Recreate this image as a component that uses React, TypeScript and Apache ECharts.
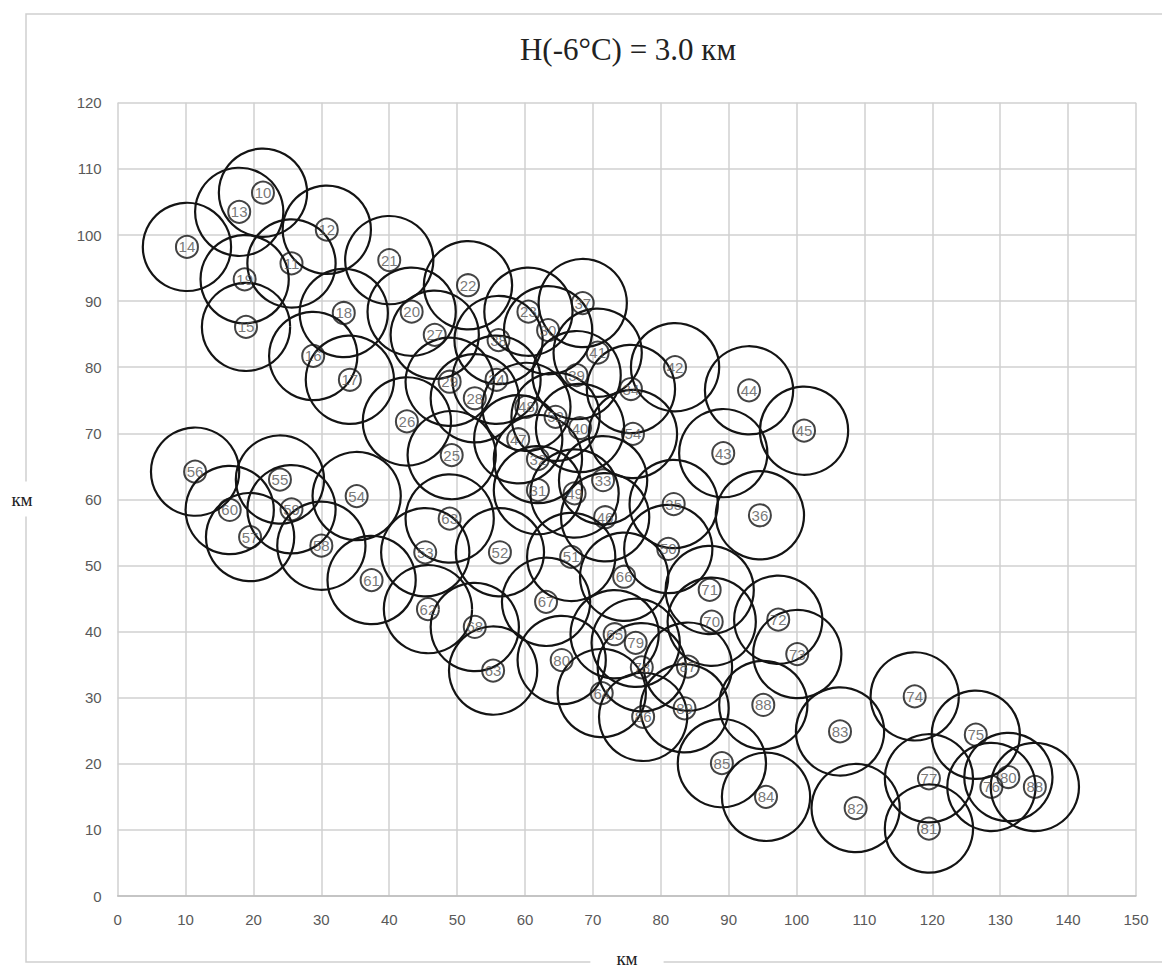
import React, { useEffect, useRef } from "react";
import * as echarts from "echarts";

const titleText = "H(-6°C) = 3.0 км";
const axisName = "км";
const xTicksMax = 150;
const yTicksMax = 120;
const cellRadiusKm = 6.5;

const labels = [
  "10", "13", "14", "12", "11", "19", "15", "21", "18", "20",
  "16", "17", "27", "22", "23", "37", "30", "38", "41", "42",
  "39", "34", "29", "24", "28", "48", "52", "40", "26", "44",
  "45", "54", "43", "33", "35", "36", "46", "25", "47", "32",
  "31", "49", "63", "53", "52", "51", "50", "66", "56", "55",
  "54", "60", "59", "57", "58", "61", "62", "68", "67", "63",
  "80", "65", "79", "78", "64", "71", "70", "72", "73", "87",
  "86", "89", "88", "74", "83", "75", "77", "80", "76", "88",
  "82", "81", "84", "85",
];
const xs = [
  21.4, 17.9, 10.2, 30.8, 25.6, 18.7, 18.9, 40.0, 33.3, 43.3,
  28.8, 34.2, 46.7, 51.6, 60.5, 68.5, 63.4, 56.1, 70.7, 82.1,
  67.6, 75.6, 48.9, 55.8, 52.6, 60.2, 64.5, 68.1, 42.6, 93.0,
  101.1, 75.9, 89.2, 71.5, 81.9, 94.6, 71.8, 49.2, 59.0, 61.9,
  61.9, 67.3, 48.9, 45.3, 56.3, 66.8, 81.1, 74.6, 11.4, 23.9,
  35.2, 16.5, 25.6, 19.5, 30.0, 37.4, 45.7, 52.6, 63.1, 55.3,
  65.4, 73.2, 76.3, 77.2, 71.3, 87.2, 87.5, 97.3, 100.1, 84.0,
  77.4, 83.5, 95.1, 117.4, 106.4, 126.4, 119.5, 131.2, 128.7, 135.1,
  108.7, 119.5, 95.5, 89.0,
];
const ys = [
  106.4, 103.5, 98.2, 100.8, 95.7, 93.3, 86.1, 96.2, 88.2, 88.4,
  81.7, 78.1, 84.9, 92.4, 88.4, 89.7, 85.6, 84.1, 82.2, 80.0,
  78.8, 76.7, 77.8, 78.1, 75.3, 74.0, 72.5, 70.8, 71.8, 76.5,
  70.4, 69.9, 67.0, 62.9, 59.3, 57.6, 57.3, 66.7, 69.1, 66.1,
  61.4, 60.9, 57.1, 52.0, 52.0, 51.3, 52.5, 48.3, 64.2, 63.0,
  60.5, 58.4, 58.5, 54.3, 53.0, 47.8, 43.4, 40.7, 44.5, 34.1,
  35.7, 39.6, 38.3, 34.6, 30.7, 46.3, 41.5, 41.8, 36.6, 34.7,
  27.1, 28.4, 28.9, 30.2, 24.9, 24.4, 17.8, 18.0, 16.5, 16.5,
  13.3, 10.2, 15.0, 20.1,
];

export default function App() {
  const ref = useRef<HTMLDivElement>(null);
  useEffect(() => {
    if (!ref.current) return;
    const chart = echarts.init(ref.current, undefined, { renderer: "svg" });
    const points = xs.map((x, i) => ({ value: [x, ys[i]], name: labels[i] }));
    const tickFont = {
      color: "#595959",
      fontSize: 15,
      fontFamily: "'Liberation Sans Narrow', 'Liberation Sans', sans-serif",
    };
    chart.setOption({
      animation: false,
      backgroundColor: "#ffffff",
      grid: { left: 117.7, right: 26, top: 102.8, bottom: 74 },
      xAxis: {
        type: "value",
        min: 0,
        max: xTicksMax,
        interval: 10,
        axisLine: { show: true, lineStyle: { color: "#bdbdbd", width: 1.5 } },
        axisTick: { show: false },
        axisLabel: { ...tickFont, margin: 16 },
        splitLine: { show: true, lineStyle: { color: "#d0d0d0", width: 1.5 } },
      },
      yAxis: {
        type: "value",
        min: 0,
        max: yTicksMax,
        interval: 10,
        axisLine: { show: false },
        axisTick: { show: false },
        axisLabel: { ...tickFont, margin: 16 },
        splitLine: { show: true, lineStyle: { color: "#d0d0d0", width: 1.5 } },
      },
      graphic: [
        {
          type: "rect",
          z: -10,
          silent: true,
          shape: { x: 26, y: 14, width: 1200, height: 948 },
          style: { fill: "none", stroke: "#cfcfcf", lineWidth: 1.5 },
        },
        {
          type: "text",
          z: 10,
          x: 628,
          y: 49,
          style: {
            text: titleText,
            fontSize: 31,
            fontFamily: "'Liberation Serif', 'DejaVu Serif', serif",
            fill: "#222222",
            textAlign: "center",
            textVerticalAlign: "middle",
          },
        },
        {
          type: "text",
          z: 10,
          x: 627,
          y: 958,
          style: {
            text: axisName,
            fontSize: 19,
            fontFamily: "'Liberation Serif', 'DejaVu Serif', serif",
            fill: "#222222",
            textAlign: "center",
            textVerticalAlign: "middle",
            backgroundColor: "#ffffff",
            padding: [0, 26, 0, 26],
          },
        },
        {
          type: "text",
          z: 10,
          x: 22,
          y: 499,
          style: {
            text: axisName,
            fontSize: 19,
            fontFamily: "'Liberation Serif', 'DejaVu Serif', serif",
            fill: "#222222",
            textAlign: "center",
            textVerticalAlign: "middle",
            backgroundColor: "#ffffff",
            padding: [8, 2, 8, 2],
          },
        },
      ],
      series: [
        {
          type: "custom",
          data: points,
          clip: false,
          silent: true,
          renderItem: (params: any, api: any) => {
            const c = api.coord([api.value(0), api.value(1)]);
            const r = api.size([cellRadiusKm, 0])[0];
            return {
              type: "circle",
              shape: { cx: c[0], cy: c[1], r },
              style: { fill: "none", stroke: "#141414", lineWidth: 2.2 },
            };
          },
        },
        {
          type: "scatter",
          data: points,
          symbol: "circle",
          symbolSize: 22,
          silent: true,
          itemStyle: { color: "rgba(0,0,0,0)", borderColor: "#141414", borderWidth: 2 },
          label: {
            show: true,
            position: "inside",
            formatter: (p: any) => p.name,
            color: "#555555",
            fontSize: 15,
            fontFamily: "'Liberation Sans Narrow', 'Liberation Sans', sans-serif",
          },
        },
      ],
    });
    return () => chart.dispose();
  }, []);
  return (
    <div
      ref={ref}
      style={{ position: "fixed", left: 0, top: 0, width: 1162, height: 970 }}
    />
  );
}
